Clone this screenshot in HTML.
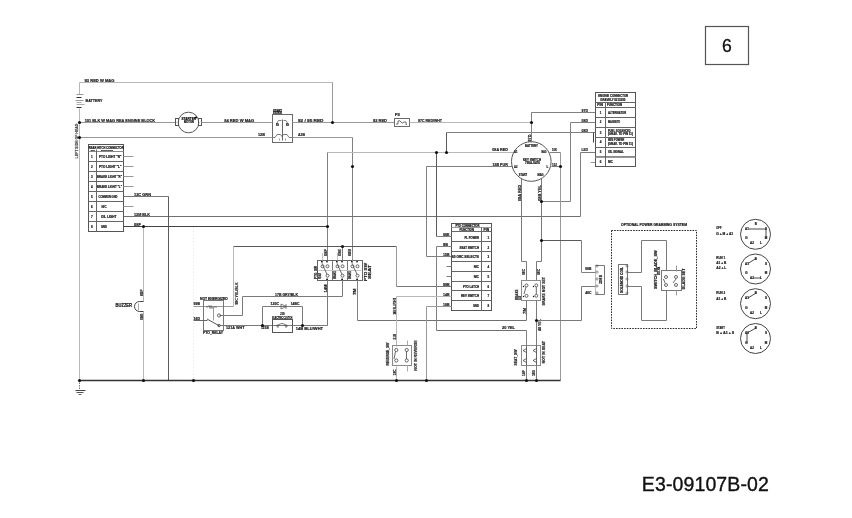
<!DOCTYPE html>
<html><head><meta charset="utf-8"><style>
html,body{margin:0;padding:0;background:#fff;}
body{width:852px;height:518px;overflow:hidden;position:relative;font-family:"Liberation Sans",sans-serif;}
svg{position:absolute;left:0;top:0;filter:blur(0.3px);}
svg text{font-family:"Liberation Sans",sans-serif;}
</style></head><body>
<svg width="852" height="518" viewBox="0 0 852 518" fill="none">
<rect x="705.5" y="26.5" width="43" height="38" stroke="#555" stroke-width="1.2" fill="none"/>
<text x="727" y="51.6" font-size="17.6" text-anchor="middle" fill="#111" stroke="#111" stroke-width="0.3">6</text>
<text x="641.8" y="490.6" font-size="19.5" letter-spacing="0.12" fill="#111" stroke="#111" stroke-width="0.35">E3-09107B-02</text>
<path d="M79.5,82.5 L332.5,82.5" stroke="#b8b8b8" stroke-width="1"/>
<path d="M332.5,82.5 L332.5,122.5" stroke="#999" stroke-width="1"/>
<text x="84.5" y="81.6" font-size="4.2" text-anchor="start" fill="#1c1c1c" stroke="#1c1c1c" stroke-width="0.2" font-weight="bold" textLength="30" lengthAdjust="spacingAndGlyphs">93 RED W MAG</text>
<path d="M79.5,82.5 L79.5,94.5" stroke="#b8b8b8" stroke-width="1"/>
<path d="M76.5,94.5 L83.5,94.5" stroke="#999" stroke-width="1"/>
<path d="M76.5,97.5 L81.5,97.5" stroke="#333" stroke-width="1"/>
<path d="M75.5,100.5 L83.5,100.5" stroke="#999" stroke-width="1"/>
<path d="M76.5,102.5 L81.5,102.5" stroke="#aaa" stroke-width="1"/>
<path d="M76.5,104.5 L84.5,104.5" stroke="#aaa" stroke-width="1"/>
<path d="M76.5,107.5 L81.5,107.5" stroke="#333" stroke-width="1"/>
<path d="M79.5,108.5 L79.5,380.5" stroke="#b8b8b8" stroke-width="1"/>
<text x="85.5" y="102" font-size="4.2" text-anchor="start" fill="#1c1c1c" stroke="#1c1c1c" stroke-width="0.2" font-weight="bold" textLength="17" lengthAdjust="spacingAndGlyphs">BATTERY</text>
<text x="77.552" y="158.4" font-size="3.2" text-anchor="start" fill="#444" stroke="#444" stroke-width="0.2" font-weight="bold" textLength="34.7" lengthAdjust="spacingAndGlyphs" transform="rotate(-90 77.552 158.4)">LEFT SIDE OF HEAD</text>
<path d="M79.5,122.5 L176.5,122.5" stroke="#999" stroke-width="1"/>
<text x="84.7" y="121.6" font-size="4.2" text-anchor="start" fill="#1c1c1c" stroke="#1c1c1c" stroke-width="0.2" font-weight="bold" textLength="70.5" lengthAdjust="spacingAndGlyphs">101 BLK W MAG REA ENGINE BLOCK</text>
<circle cx="188.5" cy="122.5" r="10.3" stroke="#555" stroke-width="1" fill="none"/>
<rect x="175.5" y="118.5" width="3" height="7" stroke="#555" stroke-width="1" fill="none"/>
<rect x="198.5" y="118.5" width="3" height="7" stroke="#555" stroke-width="1" fill="none"/>
<text x="181.5" y="120.3" font-size="3.8" text-anchor="start" fill="#000" stroke="#000" stroke-width="0.2" font-weight="bold" textLength="14.5" lengthAdjust="spacingAndGlyphs">STARTER</text>
<text x="184" y="123.4" font-size="3.2" text-anchor="start" fill="#111" stroke="#111" stroke-width="0.2" font-weight="bold" textLength="10" lengthAdjust="spacingAndGlyphs">MOTOR</text>
<path d="M201.5,122.5 L272.5,122.5" stroke="#999" stroke-width="1"/>
<text x="224.2" y="121.6" font-size="4.2" text-anchor="start" fill="#1c1c1c" stroke="#1c1c1c" stroke-width="0.2" font-weight="bold" textLength="30" lengthAdjust="spacingAndGlyphs">84 RED W MAG</text>
<rect x="272.5" y="114.5" width="20" height="28" stroke="#6a6a6a" stroke-width="1" fill="none"/>
<path d="M282.5,119.5 L282.5,140.5" stroke="#666" stroke-width="1"/>
<text x="273" y="111.8" font-size="2.8" text-anchor="start" fill="#111" stroke="#111" stroke-width="0.2" font-weight="bold" textLength="9" lengthAdjust="spacingAndGlyphs">START</text>
<text x="273" y="114.2" font-size="2.8" text-anchor="start" fill="#111" stroke="#111" stroke-width="0.2" font-weight="bold" textLength="9" lengthAdjust="spacingAndGlyphs">SOLENOID</text>
<path d="M276.5,124 L278.5,120.5 H281.5 M283.5,120.5 H286 L288,124" stroke="#666" stroke-width="0.8" fill="none"/>
<text x="276" y="126" font-size="2.6" text-anchor="start" fill="#1c1c1c" stroke="#1c1c1c" stroke-width="0.2" font-weight="bold" textLength="3" lengthAdjust="spacingAndGlyphs">IG</text>
<text x="286" y="126" font-size="2.6" text-anchor="start" fill="#1c1c1c" stroke="#1c1c1c" stroke-width="0.2" font-weight="bold" textLength="3" lengthAdjust="spacingAndGlyphs">IG</text>
<path d="M272.5,137.5 H275 L277,134.5 H280.5 L282,136.5 L283.5,134.5 H287 L289,137.5 H292.5" stroke="#555" stroke-width="0.8" fill="none"/>
<path d="M279.5,138.5 L279.5,140.5" stroke="#999" stroke-width="1"/>
<path d="M285.5,138.5 L285.5,140.5" stroke="#999" stroke-width="1"/>
<path d="M292.5,122.5 L394.5,122.5" stroke="#999" stroke-width="1"/>
<text x="298" y="121.6" font-size="4.2" text-anchor="start" fill="#1c1c1c" stroke="#1c1c1c" stroke-width="0.2" font-weight="bold" textLength="25.5" lengthAdjust="spacingAndGlyphs">92 / 95 RED</text>
<rect x="394.5" y="118.5" width="15" height="8" stroke="#6a6a6a" stroke-width="1" fill="none"/>
<path d="M396,124 h2 v-3 q1.5,-1 3,1 q1.5,2 3,0 h2 v2.5 h1" stroke="#444" stroke-width="0.8" fill="none"/>
<text x="395" y="116.4" font-size="3.6" text-anchor="start" fill="#1c1c1c" stroke="#1c1c1c" stroke-width="0.2" font-weight="bold" textLength="5" lengthAdjust="spacingAndGlyphs">F3</text>
<text x="373" y="121.6" font-size="4.2" text-anchor="start" fill="#1c1c1c" stroke="#1c1c1c" stroke-width="0.2" font-weight="bold" textLength="14" lengthAdjust="spacingAndGlyphs">92 RED</text>
<path d="M409.5,122.5 L531.5,122.5" stroke="#b8b8b8" stroke-width="1"/>
<text x="418" y="121.6" font-size="4.2" text-anchor="start" fill="#1c1c1c" stroke="#1c1c1c" stroke-width="0.2" font-weight="bold" textLength="24" lengthAdjust="spacingAndGlyphs">97C RED/WHT</text>
<path d="M531.5,122.5 L531.5,112.5" stroke="#808080" stroke-width="1"/>
<path d="M531.5,112.5 L595.5,112.5" stroke="#808080" stroke-width="1"/>
<text x="581.5" y="111.6" font-size="4.2" text-anchor="start" fill="#1c1c1c" stroke="#1c1c1c" stroke-width="0.2" font-weight="bold" textLength="6.5" lengthAdjust="spacingAndGlyphs">97D</text>
<path d="M79.5,137.5 L272.5,137.5" stroke="#999" stroke-width="1"/>
<path d="M292.5,137.5 L352.5,137.5" stroke="#999" stroke-width="1"/>
<path d="M352.5,137.5 L352.5,260.5" stroke="#808080" stroke-width="1"/>
<text x="258" y="136.4" font-size="4.2" text-anchor="start" fill="#1c1c1c" stroke="#1c1c1c" stroke-width="0.2" font-weight="bold" textLength="7" lengthAdjust="spacingAndGlyphs">12B</text>
<text x="298" y="136.4" font-size="4.2" text-anchor="start" fill="#1c1c1c" stroke="#1c1c1c" stroke-width="0.2" font-weight="bold" textLength="7" lengthAdjust="spacingAndGlyphs">A3B</text>
<path d="M327.5,152.5 L513.5,152.5" stroke="#b8b8b8" stroke-width="1"/>
<path d="M327.5,152.5 L327.5,260.5" stroke="#808080" stroke-width="1"/>
<text x="492.2" y="151.4" font-size="4.2" text-anchor="start" fill="#1c1c1c" stroke="#1c1c1c" stroke-width="0.2" font-weight="bold" textLength="15.8" lengthAdjust="spacingAndGlyphs">08A RED</text>
<path d="M446.5,152.5 L446.5,132.5" stroke="#5a5a5a" stroke-width="1"/>
<path d="M446.5,132.5 L595.5,132.5" stroke="#808080" stroke-width="1"/>
<text x="581.5" y="131.6" font-size="4.2" text-anchor="start" fill="#1c1c1c" stroke="#1c1c1c" stroke-width="0.2" font-weight="bold" textLength="6.5" lengthAdjust="spacingAndGlyphs">08D</text>
<path d="M570.5,122.5 L595.5,122.5" stroke="#808080" stroke-width="1"/>
<text x="581.5" y="121.6" font-size="4.2" text-anchor="start" fill="#1c1c1c" stroke="#1c1c1c" stroke-width="0.2" font-weight="bold" textLength="6.5" lengthAdjust="spacingAndGlyphs">08D</text>
<path d="M570.5,122.5 L570.5,201.5" stroke="#808080" stroke-width="1"/>
<path d="M570.5,201.5 L541.5,201.5" stroke="#808080" stroke-width="1"/>
<path d="M426.5,166.5 L512.5,166.5" stroke="#808080" stroke-width="1"/>
<path d="M426.5,166.5 L426.5,256.5" stroke="#808080" stroke-width="1"/>
<path d="M426.5,256.5 L451.5,256.5" stroke="#808080" stroke-width="1"/>
<text x="492.4" y="166" font-size="4.2" text-anchor="start" fill="#1c1c1c" stroke="#1c1c1c" stroke-width="0.2" font-weight="bold" textLength="15.4" lengthAdjust="spacingAndGlyphs">15B PUR</text>
<path d="M549.5,152.5 L560.5,152.5" stroke="#808080" stroke-width="1"/>
<path d="M560.5,152.5 L560.5,380.5" stroke="#999" stroke-width="1"/>
<path d="M551.5,166.5 L560.5,166.5" stroke="#7a7a7a" stroke-width="1"/>
<text x="552" y="151.2" font-size="4.2" text-anchor="start" fill="#1c1c1c" stroke="#1c1c1c" stroke-width="0.2" font-weight="bold" textLength="5" lengthAdjust="spacingAndGlyphs">10K</text>
<text x="552" y="165.6" font-size="4.2" text-anchor="start" fill="#1c1c1c" stroke="#1c1c1c" stroke-width="0.2" font-weight="bold" textLength="5" lengthAdjust="spacingAndGlyphs">10J</text>
<path d="M580.5,152.5 L595.5,152.5" stroke="#7a7a7a" stroke-width="1"/>
<text x="581.5" y="151.2" font-size="4.2" text-anchor="start" fill="#1c1c1c" stroke="#1c1c1c" stroke-width="0.2" font-weight="bold" textLength="6.5" lengthAdjust="spacingAndGlyphs">L5D</text>
<path d="M580.5,152.5 L580.5,216.5" stroke="#808080" stroke-width="1"/>
<path d="M580.5,216.5 L123.5,216.5" stroke="#707070" stroke-width="1"/>
<path d="M590.5,162.5 L595.5,162.5" stroke="#999" stroke-width="1"/>
<path d="M593.5,132.5 L593.5,142.5" stroke="#444" stroke-width="1"/>
<circle cx="531.3" cy="161.5" r="19.8" stroke="#555" stroke-width="1" fill="none"/>
<path d="M531.5,112.5 L531.5,142.5" stroke="#808080" stroke-width="1"/>
<text x="530.512" y="141.5" font-size="4.2" text-anchor="start" fill="#1c1c1c" stroke="#1c1c1c" stroke-width="0.2" font-weight="bold" textLength="7" lengthAdjust="spacingAndGlyphs" transform="rotate(-90 530.512 141.5)">97D</text>
<text x="525" y="147" font-size="3.0" text-anchor="start" fill="#1c1c1c" stroke="#1c1c1c" stroke-width="0.2" font-weight="bold" textLength="12.8" lengthAdjust="spacingAndGlyphs">BATTERY</text>
<text x="514" y="153" font-size="3.0" text-anchor="start" fill="#1c1c1c" stroke="#1c1c1c" stroke-width="0.2" font-weight="bold" textLength="3.5" lengthAdjust="spacingAndGlyphs">A1</text>
<text x="541.5" y="153" font-size="3.0" text-anchor="start" fill="#1c1c1c" stroke="#1c1c1c" stroke-width="0.2" font-weight="bold" textLength="5" lengthAdjust="spacingAndGlyphs">MAG</text>
<text x="514" y="168" font-size="3.0" text-anchor="start" fill="#1c1c1c" stroke="#1c1c1c" stroke-width="0.2" font-weight="bold" textLength="3.5" lengthAdjust="spacingAndGlyphs">A2</text>
<text x="546.5" y="168" font-size="3.0" text-anchor="start" fill="#1c1c1c" stroke="#1c1c1c" stroke-width="0.2" font-weight="bold">L</text>
<text x="518.8" y="175.8" font-size="3.0" text-anchor="start" fill="#1c1c1c" stroke="#1c1c1c" stroke-width="0.2" font-weight="bold" textLength="8.4" lengthAdjust="spacingAndGlyphs">START</text>
<text x="537.5" y="175.8" font-size="3.0" text-anchor="start" fill="#1c1c1c" stroke="#1c1c1c" stroke-width="0.2" font-weight="bold" textLength="6" lengthAdjust="spacingAndGlyphs">MAG</text>
<text x="523" y="161" font-size="3.0" text-anchor="start" fill="#1c1c1c" stroke="#1c1c1c" stroke-width="0.2" font-weight="bold" textLength="18" lengthAdjust="spacingAndGlyphs">KEY SWITCH</text>
<text x="525" y="164.2" font-size="3.0" text-anchor="start" fill="#1c1c1c" stroke="#1c1c1c" stroke-width="0.2" font-weight="bold" textLength="15" lengthAdjust="spacingAndGlyphs">750A-0476</text>
<path d="M521.5,178.5 L521.5,261.5 L526.5,261.5 L526.5,280.5" stroke="#7a7a7a" stroke-width="1"/>
<path d="M541.5,178.5 L541.5,261.5 L536.5,261.5 L536.5,280.5" stroke="#7a7a7a" stroke-width="1"/>
<text x="520.512" y="201" font-size="4.2" text-anchor="start" fill="#1c1c1c" stroke="#1c1c1c" stroke-width="0.2" font-weight="bold" textLength="16" lengthAdjust="spacingAndGlyphs" transform="rotate(-90 520.512 201)">08A RED</text>
<text x="540.512" y="201" font-size="4.2" text-anchor="start" fill="#1c1c1c" stroke="#1c1c1c" stroke-width="0.2" font-weight="bold" textLength="16" lengthAdjust="spacingAndGlyphs" transform="rotate(-90 540.512 201)">08B YEL</text>
<rect x="595.5" y="92.5" width="40" height="74" stroke="#555" stroke-width="1" fill="none"/>
<path d="M595.5,102.5 L635.5,102.5" stroke="#666" stroke-width="1"/>
<path d="M595.5,107.5 L635.5,107.5" stroke="#666" stroke-width="1"/>
<path d="M595.5,117.5 L635.5,117.5" stroke="#666" stroke-width="1"/>
<path d="M595.5,127.5 L635.5,127.5" stroke="#666" stroke-width="1"/>
<path d="M595.5,137.5 L635.5,137.5" stroke="#666" stroke-width="1"/>
<path d="M595.5,147.5 L635.5,147.5" stroke="#666" stroke-width="1"/>
<path d="M595.5,156.5 L635.5,156.5" stroke="#888" stroke-width="1"/>
<path d="M595.5,157.5 L635.5,157.5" stroke="#999" stroke-width="1"/>
<path d="M605.5,102.5 L605.5,166.5" stroke="#666" stroke-width="1"/>
<text x="598.2" y="96.8" font-size="3.0" text-anchor="start" fill="#1c1c1c" stroke="#1c1c1c" stroke-width="0.2" font-weight="bold" textLength="30" lengthAdjust="spacingAndGlyphs">ENGINE CONNECTOR</text>
<text x="600.3" y="100.9" font-size="3.0" text-anchor="start" fill="#1c1c1c" stroke="#1c1c1c" stroke-width="0.2" font-weight="bold" textLength="25" lengthAdjust="spacingAndGlyphs">GRAVELY 0213300</text>
<text x="597.3" y="105.8" font-size="2.8" text-anchor="start" fill="#1c1c1c" stroke="#1c1c1c" stroke-width="0.2" font-weight="bold" textLength="5.6" lengthAdjust="spacingAndGlyphs">PIN</text>
<text x="607" y="105.8" font-size="2.8" text-anchor="start" fill="#1c1c1c" stroke="#1c1c1c" stroke-width="0.2" font-weight="bold" textLength="15" lengthAdjust="spacingAndGlyphs">FUNCTION</text>
<text x="599.7" y="113.6" font-size="3.0" text-anchor="start" fill="#1c1c1c" stroke="#1c1c1c" stroke-width="0.2" font-weight="bold">1</text>
<text x="607.9" y="113.6" font-size="3.0" text-anchor="start" fill="#1c1c1c" stroke="#1c1c1c" stroke-width="0.2" font-weight="bold" textLength="18.2" lengthAdjust="spacingAndGlyphs">ALTERNATOR</text>
<text x="599.7" y="123.4" font-size="3.0" text-anchor="start" fill="#1c1c1c" stroke="#1c1c1c" stroke-width="0.2" font-weight="bold">2</text>
<text x="607.9" y="123.4" font-size="3.0" text-anchor="start" fill="#1c1c1c" stroke="#1c1c1c" stroke-width="0.2" font-weight="bold" textLength="12.3" lengthAdjust="spacingAndGlyphs">MAGNETO</text>
<text x="599.7" y="133.5" font-size="3.0" text-anchor="start" fill="#1c1c1c" stroke="#1c1c1c" stroke-width="0.2" font-weight="bold">3</text>
<text x="607.9" y="131.5" font-size="2.8" text-anchor="start" fill="#1c1c1c" stroke="#1c1c1c" stroke-width="0.2" font-weight="bold" textLength="22.5" lengthAdjust="spacingAndGlyphs">FUEL SOLENOID</text>
<text x="607.9" y="135.3" font-size="2.8" text-anchor="start" fill="#1c1c1c" stroke="#1c1c1c" stroke-width="0.2" font-weight="bold" textLength="25" lengthAdjust="spacingAndGlyphs">(GRAV. TO PIN 11)</text>
<text x="599.7" y="142.9" font-size="3.0" text-anchor="start" fill="#1c1c1c" stroke="#1c1c1c" stroke-width="0.2" font-weight="bold">4</text>
<text x="607.9" y="140.9" font-size="2.8" text-anchor="start" fill="#1c1c1c" stroke="#1c1c1c" stroke-width="0.2" font-weight="bold" textLength="16.4" lengthAdjust="spacingAndGlyphs">W/S POWER</text>
<text x="607.9" y="144.70000000000002" font-size="2.8" text-anchor="start" fill="#1c1c1c" stroke="#1c1c1c" stroke-width="0.2" font-weight="bold" textLength="25" lengthAdjust="spacingAndGlyphs">(GRAV. TO PIN 11)</text>
<text x="599.7" y="152.8" font-size="3.0" text-anchor="start" fill="#1c1c1c" stroke="#1c1c1c" stroke-width="0.2" font-weight="bold">5</text>
<text x="607.9" y="152.8" font-size="3.0" text-anchor="start" fill="#1c1c1c" stroke="#1c1c1c" stroke-width="0.2" font-weight="bold" textLength="15.8" lengthAdjust="spacingAndGlyphs">OIL SIGNAL</text>
<text x="599.7" y="163" font-size="3.0" text-anchor="start" fill="#1c1c1c" stroke="#1c1c1c" stroke-width="0.2" font-weight="bold">6</text>
<text x="607.9" y="163" font-size="3.0" text-anchor="start" fill="#1c1c1c" stroke="#1c1c1c" stroke-width="0.2" font-weight="bold" textLength="5.1" lengthAdjust="spacingAndGlyphs">N/C</text>
<rect x="88.5" y="144.5" width="35" height="87" stroke="#555" stroke-width="1" fill="none"/>
<path d="M88.5,151.5 L123.5,151.5" stroke="#888" stroke-width="1"/>
<path d="M88.5,161.5 L123.5,161.5" stroke="#666" stroke-width="1"/>
<path d="M88.5,171.5 L123.5,171.5" stroke="#666" stroke-width="1"/>
<path d="M88.5,181.5 L123.5,181.5" stroke="#666" stroke-width="1"/>
<path d="M88.5,191.5 L123.5,191.5" stroke="#666" stroke-width="1"/>
<path d="M88.5,201.5 L123.5,201.5" stroke="#666" stroke-width="1"/>
<path d="M88.5,211.5 L123.5,211.5" stroke="#666" stroke-width="1"/>
<path d="M88.5,221.5 L123.5,221.5" stroke="#666" stroke-width="1"/>
<path d="M96.5,149.5 L96.5,231.5" stroke="#666" stroke-width="1"/>
<text x="88.7" y="148.8" font-size="3.4" text-anchor="start" fill="#111" stroke="#111" stroke-width="0.2" font-weight="bold" textLength="35" lengthAdjust="spacingAndGlyphs">REAR HITCH CONNECTOR</text>
<text x="90.7" y="151" font-size="2.4" text-anchor="start" fill="#1c1c1c" stroke="#1c1c1c" stroke-width="0.2" font-weight="bold" textLength="4" lengthAdjust="spacingAndGlyphs">PIN</text>
<text x="101" y="151" font-size="2.4" text-anchor="start" fill="#1c1c1c" stroke="#1c1c1c" stroke-width="0.2" font-weight="bold" textLength="12" lengthAdjust="spacingAndGlyphs">FUNCTION</text>
<text x="91" y="158" font-size="3.0" text-anchor="start" fill="#1c1c1c" stroke="#1c1c1c" stroke-width="0.2" font-weight="bold">1</text>
<text x="99" y="158" font-size="3.0" text-anchor="start" fill="#1c1c1c" stroke="#1c1c1c" stroke-width="0.2" font-weight="bold" textLength="22.5" lengthAdjust="spacingAndGlyphs">PTO LIGHT &quot;R&quot;</text>
<text x="91" y="168" font-size="3.0" text-anchor="start" fill="#1c1c1c" stroke="#1c1c1c" stroke-width="0.2" font-weight="bold">2</text>
<text x="99" y="168" font-size="3.0" text-anchor="start" fill="#1c1c1c" stroke="#1c1c1c" stroke-width="0.2" font-weight="bold" textLength="22.5" lengthAdjust="spacingAndGlyphs">PTO LIGHT &quot;L&quot;</text>
<text x="91" y="178" font-size="3.0" text-anchor="start" fill="#1c1c1c" stroke="#1c1c1c" stroke-width="0.2" font-weight="bold">3</text>
<text x="97" y="178" font-size="3.0" text-anchor="start" fill="#1c1c1c" stroke="#1c1c1c" stroke-width="0.2" font-weight="bold" textLength="25" lengthAdjust="spacingAndGlyphs">BRAKE LIGHT &quot;R&quot;</text>
<text x="91" y="188" font-size="3.0" text-anchor="start" fill="#1c1c1c" stroke="#1c1c1c" stroke-width="0.2" font-weight="bold">4</text>
<text x="97" y="188" font-size="3.0" text-anchor="start" fill="#1c1c1c" stroke="#1c1c1c" stroke-width="0.2" font-weight="bold" textLength="25" lengthAdjust="spacingAndGlyphs">BRAKE LIGHT &quot;L&quot;</text>
<text x="91" y="198" font-size="3.0" text-anchor="start" fill="#1c1c1c" stroke="#1c1c1c" stroke-width="0.2" font-weight="bold">5</text>
<text x="98.5" y="198" font-size="3.0" text-anchor="start" fill="#1c1c1c" stroke="#1c1c1c" stroke-width="0.2" font-weight="bold" textLength="19" lengthAdjust="spacingAndGlyphs">COMMON GND</text>
<text x="91" y="208" font-size="3.0" text-anchor="start" fill="#1c1c1c" stroke="#1c1c1c" stroke-width="0.2" font-weight="bold">6</text>
<text x="101.5" y="208" font-size="3.0" text-anchor="start" fill="#1c1c1c" stroke="#1c1c1c" stroke-width="0.2" font-weight="bold" textLength="5" lengthAdjust="spacingAndGlyphs">N/C</text>
<text x="91" y="218" font-size="3.0" text-anchor="start" fill="#1c1c1c" stroke="#1c1c1c" stroke-width="0.2" font-weight="bold">7</text>
<text x="101" y="218" font-size="3.0" text-anchor="start" fill="#1c1c1c" stroke="#1c1c1c" stroke-width="0.2" font-weight="bold" textLength="15.5" lengthAdjust="spacingAndGlyphs">OIL LIGHT</text>
<text x="91" y="228" font-size="3.0" text-anchor="start" fill="#1c1c1c" stroke="#1c1c1c" stroke-width="0.2" font-weight="bold">8</text>
<text x="101" y="228" font-size="3.0" text-anchor="start" fill="#1c1c1c" stroke="#1c1c1c" stroke-width="0.2" font-weight="bold" textLength="6" lengthAdjust="spacingAndGlyphs">GND</text>
<path d="M123.5,156.5 L133.5,156.5" stroke="#999" stroke-width="1"/>
<path d="M123.5,166.5 L133.5,166.5" stroke="#999" stroke-width="1"/>
<path d="M123.5,176.5 L133.5,176.5" stroke="#999" stroke-width="1"/>
<path d="M123.5,186.5 L133.5,186.5" stroke="#999" stroke-width="1"/>
<path d="M123.5,206.5 L133.5,206.5" stroke="#999" stroke-width="1"/>
<path d="M123.5,196.5 L168.5,196.5" stroke="#777" stroke-width="1"/>
<path d="M168.5,196.5 L168.5,380.5" stroke="#5a5a5a" stroke-width="1"/>
<text x="134" y="195.7" font-size="4.2" text-anchor="start" fill="#1c1c1c" stroke="#1c1c1c" stroke-width="0.2" font-weight="bold" textLength="17" lengthAdjust="spacingAndGlyphs">12C GRN</text>
<text x="134" y="215.6" font-size="4.2" text-anchor="start" fill="#1c1c1c" stroke="#1c1c1c" stroke-width="0.2" font-weight="bold" textLength="16" lengthAdjust="spacingAndGlyphs">13M BLK</text>
<path d="M123.5,226.5 L327.5,226.5" stroke="#444" stroke-width="1"/>
<text x="134" y="225.6" font-size="4.2" text-anchor="start" fill="#1c1c1c" stroke="#1c1c1c" stroke-width="0.2" font-weight="bold" textLength="7" lengthAdjust="spacingAndGlyphs">08F</text>
<path d="M143.5,226.5 L143.5,301.5" stroke="#b8b8b8" stroke-width="1"/>
<path d="M143.5,311.5 L143.5,380.5" stroke="#b8b8b8" stroke-width="1"/>
<path d="M193.5,227.5 L193.5,380.5" stroke="#e6e6e6" stroke-width="1" stroke-dasharray="1.2,2.2"/>
<path d="M143.5,301.5 L139.5,301.5 A5,5 0 0 0 139.5,311.5 L143.5,311.5" stroke="#444" stroke-width="1" fill="none"/>
<path d="M138.5,303.5 L138.5,310.5" stroke="#aaa" stroke-width="1"/>
<text x="115.6" y="306.6" font-size="4.6" text-anchor="start" fill="#111" stroke="#111" stroke-width="0.2" font-weight="bold" textLength="16.4" lengthAdjust="spacingAndGlyphs">BUZZER</text>
<text x="142.512" y="296" font-size="4.2" text-anchor="start" fill="#1c1c1c" stroke="#1c1c1c" stroke-width="0.2" font-weight="bold" textLength="6.5" lengthAdjust="spacingAndGlyphs" transform="rotate(-90 142.512 296)">08F</text>
<text x="142.512" y="320" font-size="4.2" text-anchor="start" fill="#1c1c1c" stroke="#1c1c1c" stroke-width="0.2" font-weight="bold" textLength="6.5" lengthAdjust="spacingAndGlyphs" transform="rotate(-90 142.512 320)">08G</text>
<path d="M233.5,246.5 L396.5,246.5" stroke="#5a5a5a" stroke-width="1"/>
<path d="M396.5,246.5 L396.5,286.5" stroke="#999" stroke-width="1"/>
<path d="M396.5,286.5 L451.5,286.5" stroke="#777" stroke-width="1"/>
<path d="M342.5,246.5 L342.5,260.5" stroke="#7a7a7a" stroke-width="1"/>
<rect x="317.5" y="260.5" width="45" height="20" stroke="#666" stroke-width="1" fill="none"/>
<path d="M332.5,260.5 L332.5,280.5" stroke="#777" stroke-width="1"/>
<path d="M347.5,260.5 L347.5,280.5" stroke="#777" stroke-width="1"/>
<path d="M318.5,270.5 L361.5,270.5" stroke="#c4c4c4" stroke-width="1"/>
<circle cx="322.5" cy="266.3" r="1.5" stroke="#444" stroke-width="0.8" fill="none"/>
<circle cx="327.5" cy="266.3" r="1.5" stroke="#444" stroke-width="0.8" fill="none"/>
<circle cx="327.5" cy="275.7" r="1.5" stroke="#444" stroke-width="0.8" fill="none"/>
<path d="M322.0,263.5 L327.0,274.3" stroke="#444" stroke-width="0.8" fill="none"/>
<path d="M322.5,253 V264.8" stroke="#999" stroke-width="0.6" fill="none"/>
<rect x="321.0" y="261" width="1.6" height="1.4" fill="#222"/>
<rect x="326.2" y="261" width="1.6" height="1.4" fill="#222"/>
<rect x="326.2" y="278.6" width="1.8" height="1.4" fill="#222"/>
<circle cx="337.5" cy="266.3" r="1.5" stroke="#444" stroke-width="0.8" fill="none"/>
<circle cx="342.5" cy="266.3" r="1.5" stroke="#444" stroke-width="0.8" fill="none"/>
<circle cx="342.5" cy="275.7" r="1.5" stroke="#444" stroke-width="0.8" fill="none"/>
<path d="M337.0,263.5 L342.0,274.3" stroke="#444" stroke-width="0.8" fill="none"/>
<path d="M337.5,253 V264.8" stroke="#999" stroke-width="0.6" fill="none"/>
<rect x="336.0" y="261" width="1.6" height="1.4" fill="#222"/>
<rect x="341.2" y="261" width="1.6" height="1.4" fill="#222"/>
<rect x="341.2" y="278.6" width="1.8" height="1.4" fill="#222"/>
<circle cx="352.5" cy="266.3" r="1.5" stroke="#444" stroke-width="0.8" fill="none"/>
<circle cx="357.5" cy="266.3" r="1.5" stroke="#444" stroke-width="0.8" fill="none"/>
<circle cx="357.5" cy="275.7" r="1.5" stroke="#444" stroke-width="0.8" fill="none"/>
<path d="M352.0,263.5 L357.0,274.3" stroke="#444" stroke-width="0.8" fill="none"/>
<path d="M352.5,253 V264.8" stroke="#999" stroke-width="0.6" fill="none"/>
<rect x="351.0" y="261" width="1.6" height="1.4" fill="#222"/>
<rect x="356.2" y="261" width="1.6" height="1.4" fill="#222"/>
<rect x="356.2" y="278.6" width="1.8" height="1.4" fill="#222"/>
<text x="326.512" y="256" font-size="4.2" text-anchor="start" fill="#1c1c1c" stroke="#1c1c1c" stroke-width="0.2" font-weight="bold" textLength="7" lengthAdjust="spacingAndGlyphs" transform="rotate(-90 326.512 256)">08F</text>
<text x="341.012" y="256" font-size="4.2" text-anchor="start" fill="#1c1c1c" stroke="#1c1c1c" stroke-width="0.2" font-weight="bold" textLength="7" lengthAdjust="spacingAndGlyphs" transform="rotate(-90 341.012 256)">08E</text>
<text x="351.312" y="256" font-size="4.2" text-anchor="start" fill="#1c1c1c" stroke="#1c1c1c" stroke-width="0.2" font-weight="bold" textLength="7" lengthAdjust="spacingAndGlyphs" transform="rotate(-90 351.312 256)">08B</text>
<text x="326.512" y="292.5" font-size="4.2" text-anchor="start" fill="#1c1c1c" stroke="#1c1c1c" stroke-width="0.2" font-weight="bold" textLength="8" lengthAdjust="spacingAndGlyphs" transform="rotate(-90 326.512 292.5)">14M</text>
<text x="356.012" y="295" font-size="4.2" text-anchor="start" fill="#1c1c1c" stroke="#1c1c1c" stroke-width="0.2" font-weight="bold" textLength="6.5" lengthAdjust="spacingAndGlyphs" transform="rotate(-90 356.012 295)">7M</text>
<text x="366.668" y="281" font-size="3.8" text-anchor="start" fill="#1c1c1c" stroke="#1c1c1c" stroke-width="0.2" font-weight="bold" textLength="18" lengthAdjust="spacingAndGlyphs" transform="rotate(-90 366.668 281)">PTO SW</text>
<text x="370.724" y="279" font-size="3.4" text-anchor="start" fill="#1c1c1c" stroke="#1c1c1c" stroke-width="0.2" font-weight="bold" textLength="14" lengthAdjust="spacingAndGlyphs" transform="rotate(-90 370.724 279)">SEAT</text>
<text x="316.796" y="279" font-size="3.6" text-anchor="start" fill="#1c1c1c" stroke="#1c1c1c" stroke-width="0.2" font-weight="bold" textLength="13" lengthAdjust="spacingAndGlyphs" transform="rotate(-90 316.796 279)">PTO_SW</text>
<text x="320.58" y="279" font-size="3.0" text-anchor="start" fill="#1c1c1c" stroke="#1c1c1c" stroke-width="0.2" font-weight="bold" textLength="6" lengthAdjust="spacingAndGlyphs" transform="rotate(-90 320.58 279)">REAR</text>
<text x="335.508" y="279" font-size="2.8" text-anchor="start" fill="#1c1c1c" stroke="#1c1c1c" stroke-width="0.2" font-weight="bold" textLength="8" lengthAdjust="spacingAndGlyphs" transform="rotate(-90 335.508 279)">BRAKE</text>
<text x="350.508" y="279" font-size="2.8" text-anchor="start" fill="#1c1c1c" stroke="#1c1c1c" stroke-width="0.2" font-weight="bold" textLength="8" lengthAdjust="spacingAndGlyphs" transform="rotate(-90 350.508 279)">BRAKE</text>
<path d="M327.5,280.5 L327.5,325.5 L302.5,325.5" stroke="#7a7a7a" stroke-width="1"/>
<path d="M342.5,280.5 L342.5,296.5 L242.5,296.5 L242.5,315.5 L219.5,315.5" stroke="#7a7a7a" stroke-width="1"/>
<text x="275" y="295.6" font-size="4.2" text-anchor="start" fill="#1c1c1c" stroke="#1c1c1c" stroke-width="0.2" font-weight="bold" textLength="23" lengthAdjust="spacingAndGlyphs">17B GRY/BLK</text>
<path d="M357.5,280.5 L357.5,320.5" stroke="#808080" stroke-width="1"/>
<path d="M357.5,320.5 L526.5,320.5" stroke="#707070" stroke-width="1"/>
<text x="396.312" y="314.5" font-size="4.2" text-anchor="start" fill="#1c1c1c" stroke="#1c1c1c" stroke-width="0.2" font-weight="bold" textLength="16.5" lengthAdjust="spacingAndGlyphs" transform="rotate(-90 396.312 314.5)">14B BLU/WHT</text>
<path d="M233.5,246.5 L233.5,306.5" stroke="#b8b8b8" stroke-width="1"/>
<path d="M233.5,306.5 L193.5,306.5" stroke="#999" stroke-width="1"/>
<rect x="203.5" y="300.5" width="20" height="30" stroke="#777" stroke-width="1" fill="none"/>
<text x="237.512" y="304.6" font-size="4.2" text-anchor="start" fill="#1c1c1c" stroke="#1c1c1c" stroke-width="0.2" font-weight="bold" textLength="22" lengthAdjust="spacingAndGlyphs" transform="rotate(-90 237.512 304.6)">99C YEL/BLK</text>
<text x="200" y="299.8" font-size="3.6" text-anchor="start" fill="#1c1c1c" stroke="#1c1c1c" stroke-width="0.2" font-weight="bold" textLength="27.8" lengthAdjust="spacingAndGlyphs">NOT ENERGIZED</text>
<text x="203" y="334.4" font-size="3.6" text-anchor="start" fill="#1c1c1c" stroke="#1c1c1c" stroke-width="0.2" font-weight="bold" textLength="20" lengthAdjust="spacingAndGlyphs">PTO_RELAY</text>
<text x="193.5" y="305.2" font-size="3.8" text-anchor="start" fill="#1c1c1c" stroke="#1c1c1c" stroke-width="0.2" font-weight="bold" textLength="6.5" lengthAdjust="spacingAndGlyphs">99B</text>
<text x="193.5" y="319.6" font-size="3.8" text-anchor="start" fill="#1c1c1c" stroke="#1c1c1c" stroke-width="0.2" font-weight="bold" textLength="6.5" lengthAdjust="spacingAndGlyphs">16D</text>
<path d="M193.5,320.5 L207.5,320.5" stroke="#666" stroke-width="1"/>
<path d="M207,319 L219.5,326" stroke="#444" stroke-width="0.9" fill="none"/>
<path d="M206,307 h2 l1,-1.5 l1,3 l1,-3 l1,3 l1,-1.5 h4" stroke="#555" stroke-width="0.7" fill="none"/>
<path d="M213.5,306.5 L213.5,320.5" stroke="#999" stroke-width="1"/>
<path d="M219.5,325.5 L327.5,325.5" stroke="#7a7a7a" stroke-width="1"/>
<circle cx="219" cy="315.5" r="1.6" stroke="#444" stroke-width="0.8" fill="none"/>
<circle cx="219" cy="325.5" r="1.3" stroke="#444" stroke-width="0.8" fill="none"/>
<text x="226" y="329.4" font-size="4.2" text-anchor="start" fill="#1c1c1c" stroke="#1c1c1c" stroke-width="0.2" font-weight="bold" textLength="18.5" lengthAdjust="spacingAndGlyphs">121A WHT</text>
<path d="M262.5,325.5 L262.5,306.5 L302.5,306.5 L302.5,325.5" stroke="#7a7a7a" stroke-width="1"/>
<path d="M281,304 L286,306.5 L281,309 Z M286,304 V309" stroke="#444" stroke-width="0.7" fill="none"/>
<text x="270.5" y="305" font-size="3.6" text-anchor="start" fill="#1c1c1c" stroke="#1c1c1c" stroke-width="0.2" font-weight="bold" textLength="8.5" lengthAdjust="spacingAndGlyphs">120C</text>
<text x="290.7" y="305" font-size="3.6" text-anchor="start" fill="#1c1c1c" stroke="#1c1c1c" stroke-width="0.2" font-weight="bold" textLength="8.8" lengthAdjust="spacingAndGlyphs">14BC</text>
<rect x="272.5" y="319.5" width="20" height="13" stroke="#555" stroke-width="1" fill="none"/>
<text x="272.3" y="318.9" font-size="3.0" text-anchor="start" fill="#111" stroke="#111" stroke-width="0.2" font-weight="bold" textLength="20" lengthAdjust="spacingAndGlyphs">ELECTRIC CLUTCH</text>
<text x="280" y="315" font-size="3.0" text-anchor="start" fill="#1c1c1c" stroke="#1c1c1c" stroke-width="0.2" font-weight="bold" textLength="4.5" lengthAdjust="spacingAndGlyphs">J10</text>
<path d="M276,326 h2.5 a3.5,2.5 0 0 1 7,0 h2.5 M278,324 v4 M286,324 v4" stroke="#444" stroke-width="0.7" fill="none"/>
<text x="261" y="329.4" font-size="3.6" text-anchor="start" fill="#1c1c1c" stroke="#1c1c1c" stroke-width="0.2" font-weight="bold" textLength="8" lengthAdjust="spacingAndGlyphs">121B</text>
<text x="295.7" y="329.8" font-size="4.2" text-anchor="start" fill="#1c1c1c" stroke="#1c1c1c" stroke-width="0.2" font-weight="bold" textLength="27.4" lengthAdjust="spacingAndGlyphs">14B BLU/WHT</text>
<rect x="451.5" y="223.5" width="40" height="87" stroke="#555" stroke-width="1" fill="none"/>
<path d="M451.5,231.5 L491.5,231.5" stroke="#666" stroke-width="1"/>
<path d="M451.5,227.5 L491.5,227.5" stroke="#999" stroke-width="1"/>
<path d="M451.5,241.5 L491.5,241.5" stroke="#666" stroke-width="1"/>
<path d="M451.5,251.5 L491.5,251.5" stroke="#666" stroke-width="1"/>
<path d="M451.5,261.5 L491.5,261.5" stroke="#666" stroke-width="1"/>
<path d="M451.5,271.5 L491.5,271.5" stroke="#666" stroke-width="1"/>
<path d="M451.5,281.5 L491.5,281.5" stroke="#666" stroke-width="1"/>
<path d="M451.5,290.5 L491.5,290.5" stroke="#666" stroke-width="1"/>
<path d="M451.5,300.5 L491.5,300.5" stroke="#666" stroke-width="1"/>
<path d="M481.5,227.5 L481.5,310.5" stroke="#666" stroke-width="1"/>
<text x="455.4" y="226.8" font-size="3.2" text-anchor="start" fill="#111" stroke="#111" stroke-width="0.2" font-weight="bold" textLength="24" lengthAdjust="spacingAndGlyphs">PTO CONNECTOR</text>
<text x="459.5" y="230.6" font-size="2.8" text-anchor="start" fill="#1c1c1c" stroke="#1c1c1c" stroke-width="0.2" font-weight="bold" textLength="14.5" lengthAdjust="spacingAndGlyphs">FUNCTION</text>
<text x="483.6" y="230.6" font-size="2.8" text-anchor="start" fill="#1c1c1c" stroke="#1c1c1c" stroke-width="0.2" font-weight="bold" textLength="5.5" lengthAdjust="spacingAndGlyphs">PIN</text>
<text x="479" y="238.5" font-size="3.0" text-anchor="end" fill="#1c1c1c" stroke="#1c1c1c" stroke-width="0.2" font-weight="bold" textLength="14.5" lengthAdjust="spacingAndGlyphs">PL POWER</text>
<text x="488.3" y="238.5" font-size="3.0" text-anchor="middle" fill="#1c1c1c" stroke="#1c1c1c" stroke-width="0.2" font-weight="bold">1</text>
<text x="479" y="248.5" font-size="3.0" text-anchor="end" fill="#1c1c1c" stroke="#1c1c1c" stroke-width="0.2" font-weight="bold" textLength="19.5" lengthAdjust="spacingAndGlyphs">SEAT SWITCH</text>
<text x="488.3" y="248.5" font-size="3.0" text-anchor="middle" fill="#1c1c1c" stroke="#1c1c1c" stroke-width="0.2" font-weight="bold">2</text>
<text x="479" y="257.5" font-size="3.0" text-anchor="end" fill="#1c1c1c" stroke="#1c1c1c" stroke-width="0.2" font-weight="bold" textLength="27" lengthAdjust="spacingAndGlyphs">60 ORC SELECTS</text>
<text x="488.3" y="257.5" font-size="3.0" text-anchor="middle" fill="#1c1c1c" stroke="#1c1c1c" stroke-width="0.2" font-weight="bold">3</text>
<text x="479" y="267.5" font-size="3.0" text-anchor="end" fill="#1c1c1c" stroke="#1c1c1c" stroke-width="0.2" font-weight="bold" textLength="5.3" lengthAdjust="spacingAndGlyphs">N/C</text>
<text x="488.3" y="267.5" font-size="3.0" text-anchor="middle" fill="#1c1c1c" stroke="#1c1c1c" stroke-width="0.2" font-weight="bold">4</text>
<text x="479" y="277.5" font-size="3.0" text-anchor="end" fill="#1c1c1c" stroke="#1c1c1c" stroke-width="0.2" font-weight="bold" textLength="5.3" lengthAdjust="spacingAndGlyphs">N/C</text>
<text x="488.3" y="277.5" font-size="3.0" text-anchor="middle" fill="#1c1c1c" stroke="#1c1c1c" stroke-width="0.2" font-weight="bold">5</text>
<text x="479" y="287.5" font-size="3.0" text-anchor="end" fill="#1c1c1c" stroke="#1c1c1c" stroke-width="0.2" font-weight="bold" textLength="16" lengthAdjust="spacingAndGlyphs">PTO LATCH</text>
<text x="488.3" y="287.5" font-size="3.0" text-anchor="middle" fill="#1c1c1c" stroke="#1c1c1c" stroke-width="0.2" font-weight="bold">6</text>
<text x="479" y="296.5" font-size="3.0" text-anchor="end" fill="#1c1c1c" stroke="#1c1c1c" stroke-width="0.2" font-weight="bold" textLength="18" lengthAdjust="spacingAndGlyphs">REV SWITCH</text>
<text x="488.3" y="296.5" font-size="3.0" text-anchor="middle" fill="#1c1c1c" stroke="#1c1c1c" stroke-width="0.2" font-weight="bold">7</text>
<text x="479" y="306.5" font-size="3.0" text-anchor="end" fill="#1c1c1c" stroke="#1c1c1c" stroke-width="0.2" font-weight="bold" textLength="6" lengthAdjust="spacingAndGlyphs">GND</text>
<text x="488.3" y="306.5" font-size="3.0" text-anchor="middle" fill="#1c1c1c" stroke="#1c1c1c" stroke-width="0.2" font-weight="bold">8</text>
<path d="M436.5,152.5 L436.5,236.5" stroke="#5a5a5a" stroke-width="1"/>
<path d="M436.5,236.5 L451.5,236.5" stroke="#808080" stroke-width="1"/>
<path d="M451.5,246.5 L436.5,246.5" stroke="#808080" stroke-width="1"/>
<path d="M436.5,246.5 L436.5,330.5" stroke="#808080" stroke-width="1"/>
<path d="M436.5,330.5 L526.5,330.5" stroke="#707070" stroke-width="1"/>
<path d="M526.5,330.5 L526.5,345.5" stroke="#808080" stroke-width="1"/>
<path d="M446.5,266.5 L451.5,266.5" stroke="#7a7a7a" stroke-width="1"/>
<path d="M446.5,276.5 L451.5,276.5" stroke="#7a7a7a" stroke-width="1"/>
<path d="M396.5,296.5 L451.5,296.5" stroke="#b8b8b8" stroke-width="1"/>
<path d="M396.5,296.5 L396.5,346.5" stroke="#b8b8b8" stroke-width="1"/>
<path d="M396.5,366.5 L396.5,380.5" stroke="#b8b8b8" stroke-width="1"/>
<path d="M426.5,306.5 L451.5,306.5" stroke="#999" stroke-width="1"/>
<path d="M426.5,306.5 L426.5,380.5" stroke="#999" stroke-width="1"/>
<text x="443" y="235.5" font-size="4.2" text-anchor="start" fill="#1c1c1c" stroke="#1c1c1c" stroke-width="0.2" font-weight="bold" textLength="6.5" lengthAdjust="spacingAndGlyphs">08E</text>
<text x="443" y="245.5" font-size="4.2" text-anchor="start" fill="#1c1c1c" stroke="#1c1c1c" stroke-width="0.2" font-weight="bold" textLength="5" lengthAdjust="spacingAndGlyphs">9B</text>
<text x="443" y="255.5" font-size="4.2" text-anchor="start" fill="#1c1c1c" stroke="#1c1c1c" stroke-width="0.2" font-weight="bold" textLength="6.5" lengthAdjust="spacingAndGlyphs">15B</text>
<text x="443" y="285.5" font-size="4.2" text-anchor="start" fill="#1c1c1c" stroke="#1c1c1c" stroke-width="0.2" font-weight="bold" textLength="6.5" lengthAdjust="spacingAndGlyphs">99B</text>
<text x="443" y="295.5" font-size="4.2" text-anchor="start" fill="#1c1c1c" stroke="#1c1c1c" stroke-width="0.2" font-weight="bold" textLength="6.5" lengthAdjust="spacingAndGlyphs">14B</text>
<text x="443" y="305.5" font-size="4.2" text-anchor="start" fill="#1c1c1c" stroke="#1c1c1c" stroke-width="0.2" font-weight="bold" textLength="6.5" lengthAdjust="spacingAndGlyphs">18B</text>
<text x="502" y="329.4" font-size="4.2" text-anchor="start" fill="#1c1c1c" stroke="#1c1c1c" stroke-width="0.2" font-weight="bold" textLength="13" lengthAdjust="spacingAndGlyphs">20 YEL</text>
<rect x="521.5" y="280.5" width="19" height="20" stroke="#8a8a8a" stroke-width="1" fill="none"/>
<circle cx="526.5" cy="285.4" r="1.5" stroke="#444" stroke-width="0.8" fill="none"/>
<circle cx="526.5" cy="295.8" r="1.5" stroke="#444" stroke-width="0.8" fill="none"/>
<circle cx="536.3" cy="285.4" r="1.5" stroke="#444" stroke-width="0.8" fill="none"/>
<circle cx="536.3" cy="295.8" r="1.5" stroke="#444" stroke-width="0.8" fill="none"/>
<path d="M526,287 L524,294 M536.3,287 V294.3" stroke="#444" stroke-width="0.8" fill="none"/>
<text x="517.512" y="300" font-size="4.2" text-anchor="start" fill="#1c1c1c" stroke="#1c1c1c" stroke-width="0.2" font-weight="bold" textLength="10.5" lengthAdjust="spacingAndGlyphs" transform="rotate(-90 517.512 300)">BRAKE</text>
<text x="520.508" y="300" font-size="2.8" text-anchor="start" fill="#1c1c1c" stroke="#1c1c1c" stroke-width="0.2" font-weight="bold" textLength="4" lengthAdjust="spacingAndGlyphs" transform="rotate(-90 520.508 300)">SW</text>
<text x="544.696" y="305.5" font-size="3.6" text-anchor="start" fill="#1c1c1c" stroke="#1c1c1c" stroke-width="0.2" font-weight="bold" textLength="28.5" lengthAdjust="spacingAndGlyphs" transform="rotate(-90 544.696 305.5)">BRAKE NOT SET</text>
<text x="525.112" y="275" font-size="4.2" text-anchor="start" fill="#1c1c1c" stroke="#1c1c1c" stroke-width="0.2" font-weight="bold" textLength="6" lengthAdjust="spacingAndGlyphs" transform="rotate(-90 525.112 275)">08C</text>
<text x="540.112" y="275" font-size="4.2" text-anchor="start" fill="#1c1c1c" stroke="#1c1c1c" stroke-width="0.2" font-weight="bold" textLength="6" lengthAdjust="spacingAndGlyphs" transform="rotate(-90 540.112 275)">08C</text>
<path d="M526.5,300.5 L526.5,320.5" stroke="#7a7a7a" stroke-width="1"/>
<path d="M536.5,300.5 L536.5,345.5" stroke="#7a7a7a" stroke-width="1"/>
<text x="525.512" y="314" font-size="4.2" text-anchor="start" fill="#1c1c1c" stroke="#1c1c1c" stroke-width="0.2" font-weight="bold" textLength="6" lengthAdjust="spacingAndGlyphs" transform="rotate(-90 525.512 314)">7M</text>
<text x="540.512" y="331" font-size="4.2" text-anchor="start" fill="#1c1c1c" stroke="#1c1c1c" stroke-width="0.2" font-weight="bold" textLength="12" lengthAdjust="spacingAndGlyphs" transform="rotate(-90 540.512 331)">40 YEL</text>
<path d="M541.5,240.5 L581.5,240.5" stroke="#5a5a5a" stroke-width="1"/>
<path d="M581.5,240.5 L581.5,272.5" stroke="#808080" stroke-width="1"/>
<path d="M581.5,272.5 L595.5,272.5" stroke="#808080" stroke-width="1"/>
<path d="M581.5,286.5 L595.5,286.5" stroke="#7a7a7a" stroke-width="1"/>
<path d="M581.5,286.5 L581.5,320.5 L536.5,320.5" stroke="#7a7a7a" stroke-width="1"/>
<rect x="521.5" y="345.5" width="19" height="20" stroke="#8a8a8a" stroke-width="1" fill="none"/>
<path d="M526.5,345.5 L526.5,365.5" stroke="#666" stroke-width="1"/>
<path d="M536.5,345.5 L536.5,365.5" stroke="#666" stroke-width="1"/>
<path d="M526.5,348.5 L523,350.5 L526.5,352.5 M526.5,358.5 L523,360.5 L526.5,362.5 M536.5,348.5 L533,350.5 L536.5,352.5 M536.5,358.5 L533,360.5 L536.5,362.5" stroke="#444" stroke-width="0.8" fill="none"/>
<text x="517.4960000000001" y="365.5" font-size="3.6" text-anchor="start" fill="#1c1c1c" stroke="#1c1c1c" stroke-width="0.2" font-weight="bold" textLength="16" lengthAdjust="spacingAndGlyphs" transform="rotate(-90 517.4960000000001 365.5)">SEAT_SW</text>
<text x="544.9960000000001" y="363.5" font-size="3.6" text-anchor="start" fill="#1c1c1c" stroke="#1c1c1c" stroke-width="0.2" font-weight="bold" textLength="22.5" lengthAdjust="spacingAndGlyphs" transform="rotate(-90 544.9960000000001 363.5)">NOT IN SEAT</text>
<path d="M526.5,365.5 L526.5,380.5" stroke="#7a7a7a" stroke-width="1"/>
<path d="M536.5,365.5 L536.5,380.5" stroke="#7a7a7a" stroke-width="1"/>
<text x="524.8119999999999" y="376" font-size="4.2" text-anchor="start" fill="#1c1c1c" stroke="#1c1c1c" stroke-width="0.2" font-weight="bold" textLength="6" lengthAdjust="spacingAndGlyphs" transform="rotate(-90 524.8119999999999 376)">18F</text>
<text x="535.012" y="376" font-size="4.2" text-anchor="start" fill="#1c1c1c" stroke="#1c1c1c" stroke-width="0.2" font-weight="bold" textLength="6" lengthAdjust="spacingAndGlyphs" transform="rotate(-90 535.012 376)">18G</text>
<rect x="392.5" y="345.5" width="19" height="20" stroke="#8a8a8a" stroke-width="1" fill="none"/>
<circle cx="396.3" cy="350" r="1.6" stroke="#444" stroke-width="0.8" fill="none"/>
<circle cx="396.3" cy="360.5" r="1.6" stroke="#444" stroke-width="0.8" fill="none"/>
<circle cx="406.7" cy="350" r="1.6" stroke="#444" stroke-width="0.8" fill="none"/>
<circle cx="406.7" cy="360.5" r="1.6" stroke="#444" stroke-width="0.8" fill="none"/>
<path d="M395.5,351.5 L394,359 M406.5,351.5 V359" stroke="#444" stroke-width="0.8" fill="none"/>
<path d="M407.5,340.5 L407.5,345.5" stroke="#aaa" stroke-width="1"/>
<path d="M407.5,365.5 L407.5,371.5" stroke="#aaa" stroke-width="1"/>
<text x="388.69599999999997" y="365.5" font-size="3.6" text-anchor="start" fill="#1c1c1c" stroke="#1c1c1c" stroke-width="0.2" font-weight="bold" textLength="23" lengthAdjust="spacingAndGlyphs" transform="rotate(-90 388.69599999999997 365.5)">REVERSE_SW</text>
<text x="417.296" y="370.7" font-size="3.6" text-anchor="start" fill="#1c1c1c" stroke="#1c1c1c" stroke-width="0.2" font-weight="bold" textLength="30.5" lengthAdjust="spacingAndGlyphs" transform="rotate(-90 417.296 370.7)">NOT IN REVERSE</text>
<text x="395.512" y="339.4" font-size="4.2" text-anchor="start" fill="#1c1c1c" stroke="#1c1c1c" stroke-width="0.2" font-weight="bold" textLength="5.5" lengthAdjust="spacingAndGlyphs" transform="rotate(-90 395.512 339.4)">51B</text>
<text x="395.512" y="375.4" font-size="4.2" text-anchor="start" fill="#1c1c1c" stroke="#1c1c1c" stroke-width="0.2" font-weight="bold" textLength="6" lengthAdjust="spacingAndGlyphs" transform="rotate(-90 395.512 375.4)">18C</text>
<path d="M595.5,265.5 V294.5" stroke="#aaa" stroke-width="0.8" fill="none"/>
<path d="M595.5,265.5 L604.5,265.5 L604.5,294.5 L595.5,294.5" stroke="#777" stroke-width="1"/>
<circle cx="597" cy="266" r="1.1" stroke="#555" stroke-width="0.6" fill="none"/>
<circle cx="597" cy="272" r="1.1" stroke="#555" stroke-width="0.6" fill="none"/>
<circle cx="597" cy="279" r="1.1" stroke="#555" stroke-width="0.6" fill="none"/>
<circle cx="597" cy="286" r="1.1" stroke="#555" stroke-width="0.6" fill="none"/>
<circle cx="597" cy="293" r="1.1" stroke="#555" stroke-width="0.6" fill="none"/>
<text x="585.2" y="269.5" font-size="3.6" text-anchor="start" fill="#1c1c1c" stroke="#1c1c1c" stroke-width="0.2" font-weight="bold" textLength="6.2" lengthAdjust="spacingAndGlyphs">08B</text>
<text x="585.2" y="294" font-size="3.6" text-anchor="start" fill="#1c1c1c" stroke="#1c1c1c" stroke-width="0.2" font-weight="bold" textLength="6.2" lengthAdjust="spacingAndGlyphs">40C</text>
<text x="602.008" y="284" font-size="2.8" text-anchor="start" fill="#1c1c1c" stroke="#1c1c1c" stroke-width="0.2" font-weight="bold" textLength="9" lengthAdjust="spacingAndGlyphs" transform="rotate(-90 602.008 284)">J208 B</text>
<text x="621" y="226" font-size="3.6" text-anchor="start" fill="#1c1c1c" stroke="#1c1c1c" stroke-width="0.2" font-weight="bold" textLength="66" lengthAdjust="spacingAndGlyphs">OPTIONAL POWER GRABBING SYSTEM</text>
<rect x="611.5" y="230.5" width="85" height="98" stroke="#2a2a2a" stroke-width="1" fill="none" stroke-dasharray="1.6,1.1"/>
<rect x="618.5" y="264.5" width="9" height="30" stroke="#777" stroke-width="1" fill="none"/>
<circle cx="627" cy="266" r="1.1" stroke="#555" stroke-width="0.6" fill="none"/>
<circle cx="627" cy="272" r="1.1" stroke="#555" stroke-width="0.6" fill="none"/>
<circle cx="627" cy="279" r="1.1" stroke="#555" stroke-width="0.6" fill="none"/>
<circle cx="627" cy="286" r="1.1" stroke="#555" stroke-width="0.6" fill="none"/>
<circle cx="627" cy="293" r="1.1" stroke="#555" stroke-width="0.6" fill="none"/>
<text x="623.08" y="293" font-size="3.0" text-anchor="start" fill="#1c1c1c" stroke="#1c1c1c" stroke-width="0.2" font-weight="bold" textLength="26" lengthAdjust="spacingAndGlyphs" transform="rotate(-90 623.08 293)">SOLENOID COIL</text>
<path d="M627.5,272.5 L641.5,272.5 L641.5,240.5 L666.5,240.5 L666.5,270.5" stroke="#7a7a7a" stroke-width="1"/>
<path d="M627.5,286.5 L641.5,286.5 L641.5,320.5 L666.5,320.5 L666.5,290.5" stroke="#7a7a7a" stroke-width="1"/>
<rect x="661.5" y="270.5" width="20" height="20" stroke="#777" stroke-width="1" fill="none"/>
<path d="M676.5,265.5 L676.5,271.5" stroke="#999" stroke-width="1"/>
<path d="M676.5,290.5 L676.5,295.5" stroke="#999" stroke-width="1"/>
<circle cx="666" cy="277" r="1.5" stroke="#444" stroke-width="0.8" fill="none"/>
<circle cx="666" cy="285" r="1.5" stroke="#444" stroke-width="0.8" fill="none"/>
<circle cx="676" cy="277" r="1.5" stroke="#444" stroke-width="0.8" fill="none"/>
<circle cx="676" cy="285" r="1.5" stroke="#444" stroke-width="0.8" fill="none"/>
<path d="M663.5,279 L665,283 M676,279 L673,283" stroke="#444" stroke-width="0.8" fill="none"/>
<text x="657.224" y="289" font-size="3.4" text-anchor="start" fill="#1c1c1c" stroke="#1c1c1c" stroke-width="0.2" font-weight="bold" textLength="38.6" lengthAdjust="spacingAndGlyphs" transform="rotate(-90 657.224 289)">SWITCH_BLADE_SW</text>
<text x="659.736" y="275" font-size="2.6" text-anchor="start" fill="#1c1c1c" stroke="#1c1c1c" stroke-width="0.2" font-weight="bold" textLength="8" lengthAdjust="spacingAndGlyphs" transform="rotate(-90 659.736 275)">SW 3/4</text>
<text x="685.3240000000001" y="289.4" font-size="3.4" text-anchor="start" fill="#1c1c1c" stroke="#1c1c1c" stroke-width="0.2" font-weight="bold" textLength="21" lengthAdjust="spacingAndGlyphs" transform="rotate(-90 685.3240000000001 289.4)">BLADE SET</text>
<circle cx="755.5" cy="234.3" r="15" stroke="#444" stroke-width="1" fill="none"/>
<circle cx="755.5" cy="269" r="15" stroke="#444" stroke-width="1" fill="none"/>
<circle cx="755.5" cy="303.7" r="15" stroke="#444" stroke-width="1" fill="none"/>
<circle cx="755.5" cy="338.5" r="15" stroke="#444" stroke-width="1" fill="none"/>
<text x="716.3" y="229.29999999999998" font-size="3.4" text-anchor="start" fill="#1c1c1c" stroke="#1c1c1c" stroke-width="0.2" font-weight="bold" textLength="5.2" lengthAdjust="spacingAndGlyphs">OFF</text>
<text x="716.3" y="234.89999999999998" font-size="3.4" text-anchor="start" fill="#1c1c1c" stroke="#1c1c1c" stroke-width="0.2" font-weight="bold" textLength="16.8" lengthAdjust="spacingAndGlyphs">G + M + A1</text>
<text x="755.8" y="224.8" font-size="3.0" text-anchor="middle" fill="#1c1c1c" stroke="#1c1c1c" stroke-width="0.2" font-weight="bold">B</text>
<text x="747" y="229.8" font-size="3.0" text-anchor="middle" fill="#1c1c1c" stroke="#1c1c1c" stroke-width="0.2" font-weight="bold">A1</text>
<text x="766" y="229.8" font-size="3.0" text-anchor="middle" fill="#1c1c1c" stroke="#1c1c1c" stroke-width="0.2" font-weight="bold">S</text>
<text x="746.5" y="239.3" font-size="3.0" text-anchor="middle" fill="#1c1c1c" stroke="#1c1c1c" stroke-width="0.2" font-weight="bold">G</text>
<text x="766" y="239.3" font-size="3.0" text-anchor="middle" fill="#1c1c1c" stroke="#1c1c1c" stroke-width="0.2" font-weight="bold">M</text>
<text x="752" y="244.3" font-size="3.0" text-anchor="middle" fill="#1c1c1c" stroke="#1c1c1c" stroke-width="0.2" font-weight="bold">A2</text>
<text x="761" y="244.3" font-size="3.0" text-anchor="middle" fill="#1c1c1c" stroke="#1c1c1c" stroke-width="0.2" font-weight="bold">L</text>
<text x="716.3" y="259.09999999999997" font-size="3.4" text-anchor="start" fill="#1c1c1c" stroke="#1c1c1c" stroke-width="0.2" font-weight="bold" textLength="9" lengthAdjust="spacingAndGlyphs">RUN 1</text>
<text x="716.3" y="264.09999999999997" font-size="3.4" text-anchor="start" fill="#1c1c1c" stroke="#1c1c1c" stroke-width="0.2" font-weight="bold" textLength="10" lengthAdjust="spacingAndGlyphs">A1 + B</text>
<text x="716.3" y="268.9" font-size="3.4" text-anchor="start" fill="#1c1c1c" stroke="#1c1c1c" stroke-width="0.2" font-weight="bold" textLength="10" lengthAdjust="spacingAndGlyphs">A2 + L</text>
<text x="755.8" y="259.5" font-size="3.0" text-anchor="middle" fill="#1c1c1c" stroke="#1c1c1c" stroke-width="0.2" font-weight="bold">B</text>
<text x="747" y="264.5" font-size="3.0" text-anchor="middle" fill="#1c1c1c" stroke="#1c1c1c" stroke-width="0.2" font-weight="bold">A1</text>
<text x="766" y="264.5" font-size="3.0" text-anchor="middle" fill="#1c1c1c" stroke="#1c1c1c" stroke-width="0.2" font-weight="bold">S</text>
<text x="746.5" y="274" font-size="3.0" text-anchor="middle" fill="#1c1c1c" stroke="#1c1c1c" stroke-width="0.2" font-weight="bold">G</text>
<text x="766" y="274" font-size="3.0" text-anchor="middle" fill="#1c1c1c" stroke="#1c1c1c" stroke-width="0.2" font-weight="bold">M</text>
<text x="752" y="279" font-size="3.0" text-anchor="middle" fill="#1c1c1c" stroke="#1c1c1c" stroke-width="0.2" font-weight="bold">A2</text>
<text x="761" y="279" font-size="3.0" text-anchor="middle" fill="#1c1c1c" stroke="#1c1c1c" stroke-width="0.2" font-weight="bold">L</text>
<text x="716.3" y="294.4" font-size="3.4" text-anchor="start" fill="#1c1c1c" stroke="#1c1c1c" stroke-width="0.2" font-weight="bold" textLength="9" lengthAdjust="spacingAndGlyphs">RUN 2</text>
<text x="716.3" y="299.59999999999997" font-size="3.4" text-anchor="start" fill="#1c1c1c" stroke="#1c1c1c" stroke-width="0.2" font-weight="bold" textLength="10" lengthAdjust="spacingAndGlyphs">A1 + B</text>
<text x="755.8" y="294.2" font-size="3.0" text-anchor="middle" fill="#1c1c1c" stroke="#1c1c1c" stroke-width="0.2" font-weight="bold">B</text>
<text x="747" y="299.2" font-size="3.0" text-anchor="middle" fill="#1c1c1c" stroke="#1c1c1c" stroke-width="0.2" font-weight="bold">A1</text>
<text x="766" y="299.2" font-size="3.0" text-anchor="middle" fill="#1c1c1c" stroke="#1c1c1c" stroke-width="0.2" font-weight="bold">S</text>
<text x="746.5" y="308.7" font-size="3.0" text-anchor="middle" fill="#1c1c1c" stroke="#1c1c1c" stroke-width="0.2" font-weight="bold">G</text>
<text x="766" y="308.7" font-size="3.0" text-anchor="middle" fill="#1c1c1c" stroke="#1c1c1c" stroke-width="0.2" font-weight="bold">M</text>
<text x="752" y="313.7" font-size="3.0" text-anchor="middle" fill="#1c1c1c" stroke="#1c1c1c" stroke-width="0.2" font-weight="bold">A2</text>
<text x="761" y="313.7" font-size="3.0" text-anchor="middle" fill="#1c1c1c" stroke="#1c1c1c" stroke-width="0.2" font-weight="bold">L</text>
<text x="716.3" y="328.9" font-size="3.4" text-anchor="start" fill="#1c1c1c" stroke="#1c1c1c" stroke-width="0.2" font-weight="bold" textLength="8.5" lengthAdjust="spacingAndGlyphs">START</text>
<text x="716.3" y="333.7" font-size="3.4" text-anchor="start" fill="#1c1c1c" stroke="#1c1c1c" stroke-width="0.2" font-weight="bold" textLength="18" lengthAdjust="spacingAndGlyphs">B + A1 + S</text>
<text x="755.8" y="329.0" font-size="3.0" text-anchor="middle" fill="#1c1c1c" stroke="#1c1c1c" stroke-width="0.2" font-weight="bold">B</text>
<text x="747" y="334.0" font-size="3.0" text-anchor="middle" fill="#1c1c1c" stroke="#1c1c1c" stroke-width="0.2" font-weight="bold">A1</text>
<text x="766" y="334.0" font-size="3.0" text-anchor="middle" fill="#1c1c1c" stroke="#1c1c1c" stroke-width="0.2" font-weight="bold">S</text>
<text x="746.5" y="343.5" font-size="3.0" text-anchor="middle" fill="#1c1c1c" stroke="#1c1c1c" stroke-width="0.2" font-weight="bold">G</text>
<text x="766" y="343.5" font-size="3.0" text-anchor="middle" fill="#1c1c1c" stroke="#1c1c1c" stroke-width="0.2" font-weight="bold">M</text>
<text x="752" y="348.5" font-size="3.0" text-anchor="middle" fill="#1c1c1c" stroke="#1c1c1c" stroke-width="0.2" font-weight="bold">A2</text>
<text x="761" y="348.5" font-size="3.0" text-anchor="middle" fill="#1c1c1c" stroke="#1c1c1c" stroke-width="0.2" font-weight="bold">L</text>
<path d="M749,229 H766 V239" stroke="#333" stroke-width="0.9" fill="none"/>
<path d="M748,263.5 L756,258.5 M753.5,278 H761" stroke="#333" stroke-width="0.9" fill="none"/>
<path d="M748,298 L756,293" stroke="#333" stroke-width="0.9" fill="none"/>
<path d="M747,343 V333 L756,328" stroke="#333" stroke-width="0.9" fill="none"/>
<path d="M79.5,380.5 L560.5,380.5" stroke="#333" stroke-width="1.5"/>
<path d="M79.5,382.5 L79.5,389.5" stroke="#777" stroke-width="1" stroke-dasharray="1.5,1"/>
<path d="M75.5,390.5 L85.5,390.5" stroke="#444" stroke-width="1"/>
<path d="M76.5,392.5 L83.5,392.5" stroke="#555" stroke-width="1"/>
<path d="M78.5,394.5 L81.5,394.5" stroke="#666" stroke-width="1"/>
<circle cx="79.5" cy="122.5" r="1.55" fill="#111"/>
<circle cx="196.0" cy="117.5" r="1.1" fill="#111"/>
<circle cx="332.5" cy="122.5" r="1.55" fill="#111"/>
<circle cx="531.5" cy="122.5" r="1.55" fill="#111"/>
<circle cx="79.5" cy="137.5" r="1.55" fill="#111"/>
<circle cx="436.5" cy="152.5" r="1.55" fill="#111"/>
<circle cx="446.5" cy="152.5" r="1.55" fill="#111"/>
<circle cx="541.5" cy="201.5" r="1.55" fill="#111"/>
<circle cx="352.5" cy="166.5" r="1.55" fill="#111"/>
<circle cx="560.5" cy="166.5" r="1.55" fill="#111"/>
<circle cx="143.5" cy="226.5" r="1.55" fill="#111"/>
<circle cx="327.5" cy="226.5" r="1.55" fill="#111"/>
<circle cx="342.5" cy="246.5" r="1.55" fill="#111"/>
<circle cx="262.5" cy="325.5" r="1.55" fill="#111"/>
<circle cx="302.5" cy="325.5" r="1.55" fill="#111"/>
<circle cx="523.5" cy="286.5" r="0.7" fill="#111"/>
<circle cx="523.5" cy="296.5" r="0.7" fill="#111"/>
<circle cx="533.5" cy="286.5" r="0.7" fill="#111"/>
<circle cx="533.5" cy="296.5" r="0.7" fill="#111"/>
<circle cx="541.5" cy="240.5" r="1.55" fill="#111"/>
<circle cx="536.5" cy="320.5" r="1.55" fill="#111"/>
<circle cx="79.5" cy="380.5" r="1.55" fill="#111"/>
<circle cx="143.5" cy="380.5" r="1.55" fill="#111"/>
<circle cx="193.5" cy="380.5" r="1.55" fill="#111"/>
<circle cx="396.5" cy="380.5" r="1.55" fill="#111"/>
<circle cx="426.5" cy="380.5" r="1.55" fill="#111"/>
<circle cx="526.5" cy="380.5" r="1.55" fill="#111"/>
<circle cx="536.5" cy="380.5" r="1.55" fill="#111"/>
</svg>
</body></html>
